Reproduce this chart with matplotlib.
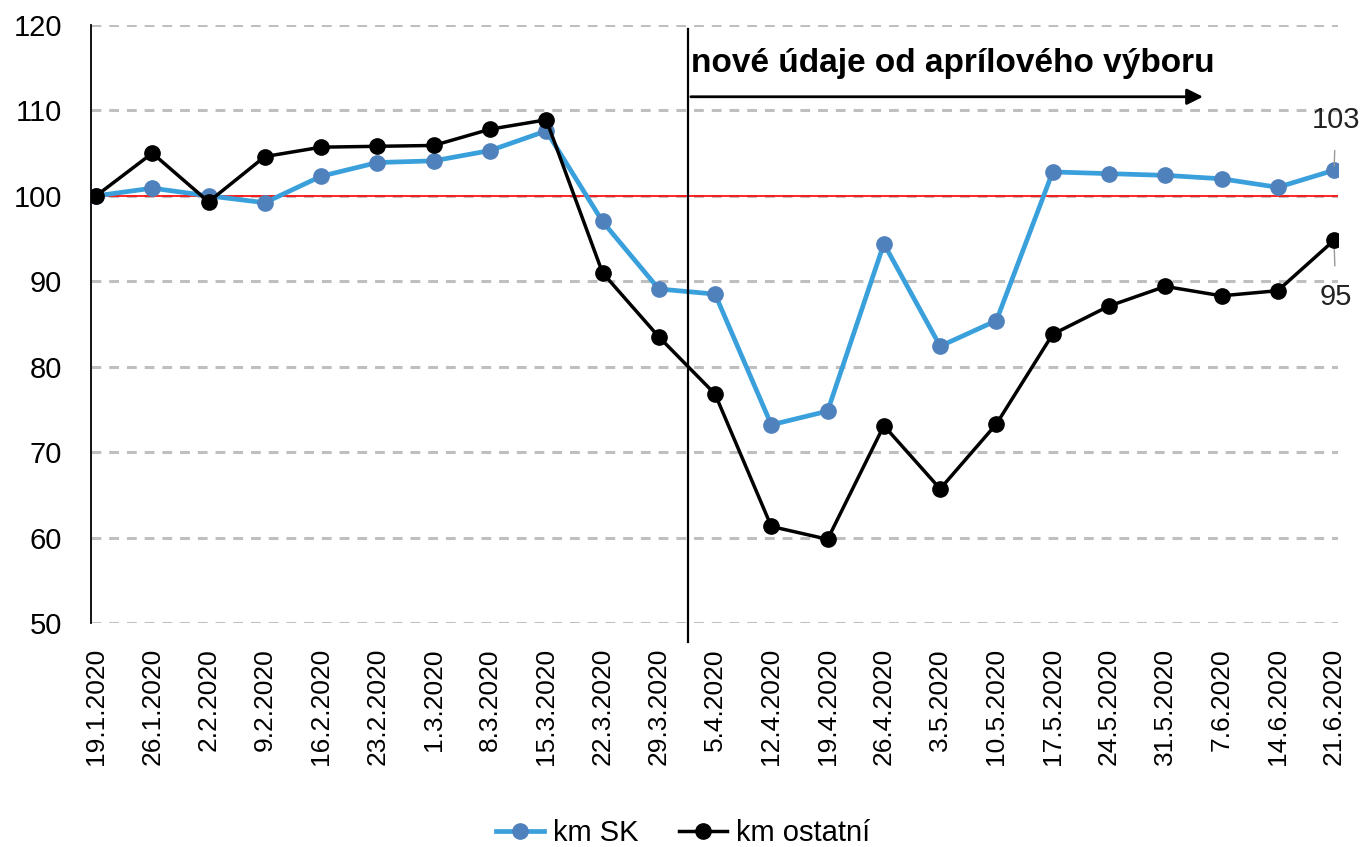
import matplotlib.pyplot as plt

plt.rcParams['font.family'] = ['Liberation Sans', 'DejaVu Sans']

# data
datumy = ['19.1.2020', '26.1.2020', '2.2.2020', '9.2.2020', '16.2.2020', '23.2.2020',
          '1.3.2020', '8.3.2020', '15.3.2020', '22.3.2020', '29.3.2020', '5.4.2020',
          '12.4.2020', '19.4.2020', '26.4.2020', '3.5.2020', '10.5.2020', '17.5.2020',
          '24.5.2020', '31.5.2020', '7.6.2020', '14.6.2020', '21.6.2020']
km_sk = [100, 100.9, 100, 99.2, 102.3, 103.9, 104.1, 105.3, 107.6, 97.0, 89.1, 88.5,
         73.2, 74.8, 94.4, 82.4, 85.4, 102.8, 102.6, 102.4, 102.0, 101.0, 103.0]
km_ostatni = [100, 105.0, 99.3, 104.6, 105.7, 105.8, 105.9, 107.8, 108.9, 91.0, 83.5, 76.8,
              61.3, 59.8, 73.1, 65.7, 73.3, 83.8, 87.1, 89.4, 88.3, 88.9, 94.8]
y_ticks = [50, 60, 70, 80, 90, 100, 110, 120]

fig = plt.figure(figsize=(13.66, 8.47), dpi=100)
ax = fig.add_axes([91/1366, 1 - 623/847, (1338 - 91)/1366, (623 - 25)/847])

x = list(range(len(datumy)))

# horizontal dashed grid
for t in y_ticks:
    ax.axhline(t, color='#bfbfbf', lw=2.2, ls=(0, (3.2, 2.6)), zorder=1)
ax.axhline(100, color='#ff0000', lw=1.2, zorder=2)

ax.plot(x, km_sk, color='#3aa0dc', lw=3.4, marker='o', ms=11,
        mfc='#4f81bd', mec='#4f81bd', label='km SK', zorder=3)
ax.plot(x, km_ostatni, color='black', lw=2.5, marker='o', ms=11,
        mfc='black', mec='black', label='km ostatní', zorder=4)

ax.set_xlim(-0.09, 22.07)
ax.set_ylim(50, 120)
ax.set_yticks(y_ticks)
ax.set_xticks(x)
ax.set_xticklabels(datumy, rotation=90, fontsize=19)
ax.tick_params(axis='y', labelsize=21, length=0, pad=21)
ax.tick_params(axis='x', length=0, pad=18)

for s in ['top', 'right', 'bottom']:
    ax.spines[s].set_visible(False)
ax.spines['left'].set_linewidth(1.3)

# vertical divider + arrow + label
ax.plot([10.52, 10.52], [47.8, 119.5], color='black', lw=1.6, clip_on=False, zorder=5)
ax.annotate('', xy=(19.72, 111.6), xytext=(10.52, 111.6),
            arrowprops=dict(arrowstyle='-|>', color='black', lw=2, mutation_scale=24))
ax.text(10.58, 114.5, 'nové údaje od aprílového výboru', fontsize=24, fontweight='bold',
        ha='left', va='baseline')

# end labels
ax.annotate('103', xy=(22, km_sk[-1]), xytext=(22.03, 108.9), fontsize=21,
            ha='center', va='center', color='#222222', annotation_clip=False,
            arrowprops=dict(arrowstyle='-', color='#999999', lw=1, shrinkA=10, shrinkB=3))
ax.annotate('95', xy=(22, km_ostatni[-1]), xytext=(22.03, 88.2), fontsize=21,
            ha='center', va='center', color='#222222', annotation_clip=False,
            arrowprops=dict(arrowstyle='-', color='#999999', lw=1, shrinkA=10, shrinkB=3))

fig.legend(loc='center', bbox_to_anchor=(0.5, 1 - 833/847), ncol=2, frameon=False,
           fontsize=21, handlelength=1.65, columnspacing=1.4, handletextpad=0.3)

fig.savefig('out.png', dpi=100)
